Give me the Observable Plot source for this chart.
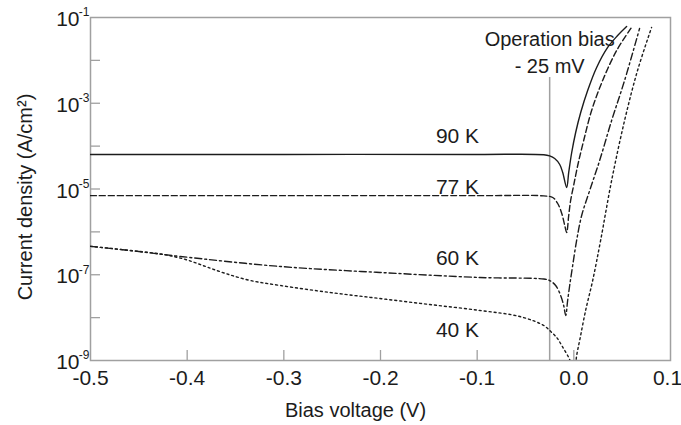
<!DOCTYPE html>
<html>
<head>
<meta charset="utf-8">
<script src="https://cdn.jsdelivr.net/npm/d3@7"></script>
<script src="https://cdn.jsdelivr.net/npm/@observablehq/plot@0.6"></script>
<style>
  html, body { margin: 0; padding: 0; background: #fff; }
  #chart svg { display: block; }
</style>
</head>
<body>
<div id="chart"></div>
<script>
// Dark current density vs. bias voltage at four temperatures.
const temps = ["90 K", "77 K", "60 K", "40 K"];

// 90 K (solid)
const v90 = [-0.5, -0.3, -0.1, -0.0311, -0.025, -0.0198, -0.0146, -0.0115, -0.0074,
             -0.0053, -0.0022, 0.0019, 0.0071, 0.0143, 0.0236, 0.035, 0.0453, 0.0546];
const j90 = [6.4e-5, 6.4e-5, 6.4e-5, 6.3e-5, 5.9e-5, 5.15e-5, 3.73e-5, 2.43e-5, 1.08e-5,
             2.43e-5, 7.1e-5, 2.08e-4, 6.08e-4, 1.98e-3, 6.82e-3, 0.02, 0.038, 0.0617];

// 77 K (dashed)
const v77 = [-0.5, -0.3, -0.1, -0.0311, -0.0218, -0.0167, -0.0125, -0.0094, -0.0074,
             -0.0053, -0.0033, -0.0002, 0.004, 0.0102, 0.0184, 0.0298, 0.0443, 0.0597];
const j77 = [7.0e-6, 7.0e-6, 7.0e-6, 6.9e-6, 6.34e-6, 4.59e-6, 2.69e-6, 1.41e-6, 9.7e-7,
             2.41e-6, 5.4e-6, 1.21e-5, 3.53e-5, 1.35e-4, 6.78e-4, 3.4e-3, 0.017, 0.0585];

// 60 K (dash-dot)
const v60 = [-0.5, -0.45, -0.407, -0.3038, -0.2005, -0.0972, -0.0311, -0.025, -0.0188,
             -0.0136, -0.0105, -0.0084, -0.0064, -0.0043, -0.0012, 0.0029, 0.0081, 0.0164,
             0.0267, 0.0391, 0.0525, 0.068];
const j60 = [4.6e-7, 3.48e-7, 2.67e-7, 1.56e-7, 1.13e-7, 8.63e-8, 7.96e-8, 7.34e-8, 5.61e-8,
             3.28e-8, 1.92e-8, 1.12e-8, 2.51e-8, 5.61e-8, 1.64e-7, 6.3e-7, 2.41e-6, 9.23e-6,
             4.62e-5, 3.96e-4, 3.4e-3, 0.0553];

// 40 K (dotted)
const v40 = [-0.5, -0.4587, -0.4246, -0.4017, -0.381, -0.3603, -0.3345, -0.3035, -0.2521,
             -0.2005, -0.1489, -0.0972, -0.0559, -0.0311, -0.0229, -0.0177, -0.0125, -0.0064,
             0.0009, 0.0029, 0.006, 0.0122, 0.0195, 0.0277, 0.0391, 0.0525, 0.0659, 0.0804];
const j40 = [4.6e-7, 3.68e-7, 2.97e-7, 2.27e-7, 1.56e-7, 1.07e-7, 7.34e-8, 5.61e-8, 3.85e-8,
             2.79e-8, 2.02e-8, 1.47e-8, 1.06e-8, 6.55e-9, 4.5e-9, 3.44e-9, 2.24e-9, 1.31e-9,
             6.5e-10, 1.31e-9, 2.92e-9, 1.47e-8, 7.34e-8, 6.3e-7, 1.58e-5, 3.96e-4, 5.81e-3,
             0.0585];

// Operating point (V)
const biasV = -0.025;

// Axis ticks
const xTicks = [-0.5, -0.4, -0.3, -0.2, -0.1, 0.0, 0.1];
const xInnerTicks = [-0.4, -0.3, -0.2, -0.1, 0.0];
const yInnerDecades = [-2, -3, -4, -5, -6, -7, -8];
const yLabelDecades = [-1, -3, -5, -7, -9];

// ---- styling ----
const ink = "#1c1c1c";
const axisGray = "#a0a0a0";
const font = "'Liberation Sans', Arial, Helvetica, sans-serif";
const labelV = -0.098;

const styles = [
  {dash: null, labelDy: -11},
  {dash: "6,3", labelDy: -2},
  {dash: "7,3,2,3", labelDy: -12},
  {dash: "2,3", labelDy: 27}
];

const raw = [[v90, j90], [v77, j77], [v60, j60], [v40, j40]];
const series = raw.map(([v, j], i) => ({
  name: temps[i],
  rows: v.map((x, k) => ({v: x, j: j[k]})),
  ...styles[i]
}));

// value of a series at voltage x (log-linear interpolation)
function valueAt(rows, x) {
  for (let k = 1; k < rows.length; k++) {
    const a = rows[k - 1], b = rows[k];
    if (x >= a.v && x <= b.v) {
      const t = (x - a.v) / (b.v - a.v);
      return 10 ** (Math.log10(a.j) + t * (Math.log10(b.j) - Math.log10(a.j)));
    }
  }
  return rows[0].j;
}

const fmtV = d => (d < 0 ? "-" : "") + Math.abs(d).toFixed(1);
const tickText = {tickSize: 0, tickPadding: 10, tickFormat: fmtV, fontSize: 21, label: null};

const marks = [
  Plot.frame({stroke: axisGray, strokeWidth: 1.5}),
  Plot.tickX(xInnerTicks, {x: d => d, insetTop: 333, stroke: axisGray, strokeWidth: 1.3}),
  Plot.tickY(yInnerDecades, {y: d => 10 ** d, insetRight: 570, stroke: axisGray, strokeWidth: 1.3}),
  Plot.axisX({ticks: xTicks.slice(0, -1), ...tickText}),
  Plot.axisX({ticks: xTicks.slice(-1), ...tickText, dx: -3}),
  Plot.text(yLabelDecades, {y: d => 10 ** d, frameAnchor: "left", textAnchor: "end",
    dx: -11, dy: 2, text: () => "10", fontSize: 21, fill: ink}),
  Plot.text(yLabelDecades, {y: d => 10 ** d, frameAnchor: "left", textAnchor: "end",
    dx: -1, dy: -5, text: d => "-" + Math.abs(d), fontSize: 12, fill: ink}),
  Plot.text(["Bias voltage (V)"], {frameAnchor: "bottom", lineAnchor: "bottom", textAnchor: "middle",
    dx: -25, dy: 56, text: d => d, fontSize: 20, fill: ink}),
  Plot.text(["Current density (A/cm²)"], {frameAnchor: "left", textAnchor: "middle", dx: -65, dy: 8,
    rotate: -90, text: d => d, fontSize: 20, fill: ink}),
  Plot.ruleX([biasV], {x: d => d, insetTop: 60, stroke: axisGray, strokeWidth: 1.5}),
  Plot.text([biasV], {x: d => d, frameAnchor: "top", lineAnchor: "top", dy: 10, lineHeight: 1.32,
    text: d => `Operation bias\n- ${Math.round(-d * 1000)} mV`, fontSize: 20, fill: ink}),
  ...series.map(s => Plot.line(s.rows, {
    x: "v", y: "j", stroke: ink, strokeWidth: 1.4, curve: "catmull-rom",
    strokeDasharray: s.dash, clip: true
  })),
  ...series.map(s => Plot.text([s], {
    x: labelV, y: d => valueAt(d.rows, labelV), text: d => d.name,
    textAnchor: "end", lineAnchor: "bottom", dy: s.labelDy, fontSize: 21, fill: ink
  }))
];

const chart = Plot.plot({
  width: 681,
  height: 425,
  marginLeft: 90,
  marginRight: 11,
  marginTop: 17,
  marginBottom: 65,
  style: {fontFamily: font, fontSize: "21px", color: ink, background: "#fff"},
  x: {domain: [-0.5, 0.1]},
  y: {type: "log", domain: [1e-9, 1e-1], axis: null},
  marks
});

document.getElementById("chart").appendChild(chart);
</script>
</body>
</html>
